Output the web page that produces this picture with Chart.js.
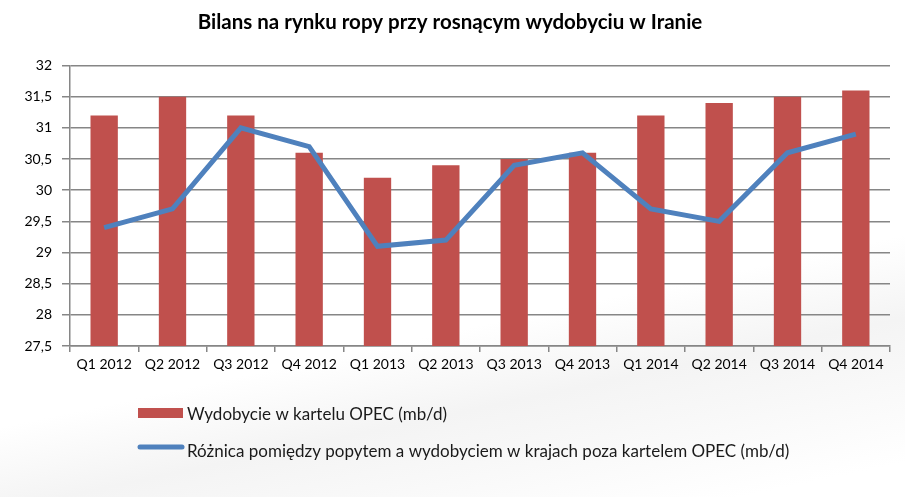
<!DOCTYPE html>
<html>
<head>
<meta charset="utf-8">
<script src="https://cdn.jsdelivr.net/npm/chart.js@4"></script>
<style>
  html, body { margin: 0; padding: 0; background: #fff; }
  #wrap {
    width: 905px; height: 497px;
    background: linear-gradient(168deg, #fff 62%, #f4f4f4 74%, #f8f8f8 82%, #fff 95%);
  }
</style>
</head>
<body>
<div id="wrap"><canvas id="chart"></canvas></div>
<script>
// dane
var kwartaly = ['Q1 2012', 'Q2 2012', 'Q3 2012', 'Q4 2012', 'Q1 2013', 'Q2 2013',
                'Q3 2013', 'Q4 2013', 'Q1 2014', 'Q2 2014', 'Q3 2014', 'Q4 2014'];
var wydobycieOpec = [31.2, 31.5, 31.2, 30.6, 30.2, 30.4, 30.5, 30.6, 31.2, 31.4, 31.5, 31.6];
var roznicaPozaOpec = [29.4, 29.7, 31.0, 30.7, 29.1, 29.2, 30.4, 30.6, 29.7, 29.5, 30.6, 30.9];
var yMin = 27.5, yMax = 32, yStep = 0.5;

var FONT = 'Lato, "Open Sans", sans-serif';
var czerwony = '#C0504D';
var niebieski = '#4F81BD';
var szary = '#868686';

// legenda pionowa pod wykresem
var legendaPionowa = {
    id: 'legendaPionowa',
    afterDraw: function(chart) {
        var ctx = chart.ctx;
        var x0 = 138;
        var wiersze = [{ marker: 413, tekst: 415 }, { marker: 447, tekst: 452 }];
        ctx.save();
        ctx.font = '17px ' + FONT;
        ctx.textBaseline = 'middle';
        chart.data.datasets.forEach(function(ds, i) {
            var w = wiersze[i];
            if (ds.type === 'line') {
                ctx.strokeStyle = ds.borderColor;
                ctx.lineWidth = 5;
                ctx.lineCap = 'round';
                ctx.beginPath();
                ctx.moveTo(x0 + 2, w.marker);
                ctx.lineTo(x0 + 44, w.marker);
                ctx.stroke();
            } else {
                ctx.fillStyle = ds.backgroundColor;
                ctx.fillRect(x0, w.marker - 5, 45, 10);
            }
            ctx.fillStyle = '#1a1a1a';
            ctx.fillText(ds.label, x0 + 49, w.tekst);
        });
        ctx.restore();
    }
};

new Chart(document.getElementById('chart'), {
    type: 'bar',
    data: {
        labels: kwartaly,
        datasets: [{
            label: 'Wydobycie w kartelu OPEC (mb/d)',
            data: wydobycieOpec,
            backgroundColor: czerwony,
            categoryPercentage: 1,
            barPercentage: 0.4,
            order: 1
        }, {
            type: 'line',
            label: 'Różnica pomiędzy popytem a wydobyciem w krajach poza kartelem OPEC (mb/d)',
            data: roznicaPozaOpec,
            borderColor: niebieski,
            backgroundColor: niebieski,
            borderWidth: 5,
            pointRadius: 0,
            tension: 0,
            order: 0
        }]
    },
    options: {
        responsive: true,
        maintainAspectRatio: false,
        animation: false,
        layout: {
            padding: { left: 10, right: 15, top: 0, bottom: 121 }
        },
        plugins: {
            legend: { display: false },
            tooltip: { enabled: false },
            title: {
                display: true,
                text: 'Bilans na rynku ropy przy rosnącym wydobyciu w Iranie',
                color: '#000',
                font: { family: FONT, size: 20.5, weight: 'bold' },
                padding: { top: 10, bottom: 31 }
            }
        },
        scales: {
            x: {
                offset: true,
                grid: {
                    offset: true,
                    drawOnChartArea: false,
                    color: szary,
                    lineWidth: 1.5,
                    tickLength: 6
                },
                border: { color: szary, width: 1.5 },
                ticks: {
                    color: '#000',
                    font: { family: FONT, size: 14 },
                    maxRotation: 0,
                    autoSkip: false,
                    padding: 4
                },
                afterFit: function(s) { s.height = 30; }
            },
            y: {
                min: yMin,
                max: yMax,
                ticks: {
                    stepSize: yStep,
                    color: '#000',
                    font: { family: FONT, size: 14 },
                    padding: 10,
                    callback: function(v) { return String(v).replace('.', ','); }
                },
                grid: {
                    color: szary,
                    lineWidth: 1.5,
                    tickLength: 8
                },
                border: { color: szary, width: 1.5 },
                afterFit: function(s) { s.width = 60; }
            }
        }
    },
    plugins: [legendaPionowa]
});
</script>
</body>
</html>
